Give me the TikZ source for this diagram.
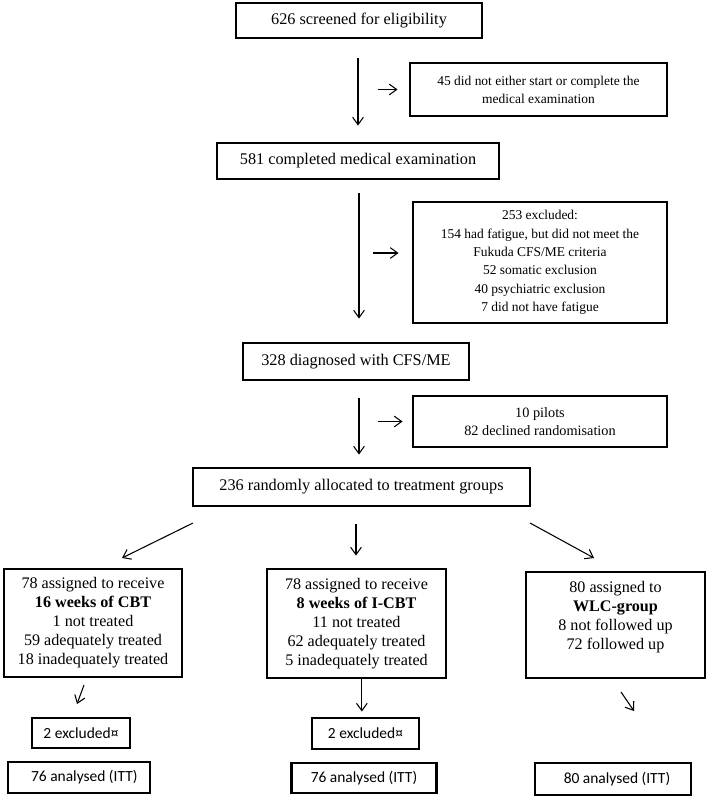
\documentclass[tikz,border=0pt]{standalone}
\usepackage{fontspec}
\setmainfont{Liberation Serif}
\newfontfamily\calib{Carlito}
\usetikzlibrary{arrows.meta}
\begin{document}
\begin{tikzpicture}[x=0.75pt,y=-0.75pt,
  box/.style={draw=black, line width=2.2pt, inner sep=0pt, align=center},
  bigtxt/.style={font=\fontsize{12.2}{14}\selectfont},
  smalltxt/.style={font=\fontsize{10.1}{13.6}\selectfont},
  grouptxt/.style={font=\fontsize{12.1}{14.2}\selectfont},
  sanstxt/.style={font=\calib\fontsize{11.6}{14}\selectfont},
  arr/.style={line width=0.8pt, -{Straight Barb[length=5.5pt,width=8pt,line width=0.8pt]}}
]
\fill[white] (0,0) rectangle (708,800);
\useasboundingbox (0,0) rectangle (708,800);

% main column
\node[box, bigtxt, minimum width=246*0.75pt, minimum height=35*0.75pt] (b1) at (359,20.5) {626 screened for eligibility};
\node[box, smalltxt, minimum width=257*0.75pt, minimum height=53*0.75pt] (b2) at (538.5,89.5) {45 did not either start or complete the\\medical examination};
\node[box, bigtxt, minimum width=282*0.75pt, minimum height=36*0.75pt] (b3) at (358,161) {581 completed medical examination};
\node[box, smalltxt, font=\fontsize{10.1}{13.8}\selectfont, minimum width=254*0.75pt, minimum height=121*0.75pt] (b4) at (540,262.5) {253 excluded:\\154 had fatigue, but did not meet the\\Fukuda CFS/ME criteria\\52 somatic exclusion\\40 psychiatric exclusion\\7 did not have fatigue};
\node[box, bigtxt, minimum width=226*0.75pt, minimum height=37*0.75pt] (b5) at (356,361.5) {328 diagnosed with CFS/ME};
\node[box, font=\fontsize{10.7}{13.6}\selectfont, minimum width=254*0.75pt, minimum height=51*0.75pt] (b6) at (540,421.5) {10 pilots\\82 declined randomisation};
\node[box, bigtxt, minimum width=337*0.75pt, minimum height=38*0.75pt] (b7) at (361.5,487) {236 randomly allocated to treatment groups};

% groups
\node[box, grouptxt, minimum width=178*0.75pt, minimum height=108*0.75pt] (g1) at (93,623) {78 assigned to receive\\\textbf{16 weeks of CBT}\\1 not treated\\59 adequately treated\\18 inadequately treated};
\node[box, grouptxt, minimum width=179*0.75pt, minimum height=109*0.75pt] (g2) at (356.5,623.5) {78 assigned to receive\\\textbf{8 weeks of I-CBT}\\11 not treated\\62 adequately treated\\5 inadequately treated};
\node[box, minimum width=179*0.75pt, minimum height=106*0.75pt] (g3) at (615.5,625) {};
\node[grouptxt, align=center, inner sep=0pt] (g3t) at (615.5,617) {80 assigned to\\\textbf{WLC-group}\\8 not followed up\\72 followed up};

% bottom
\node[box, sanstxt, minimum width=98*0.75pt, minimum height=30*0.75pt] (e1) at (81,733) {2 excluded¤};
\node[box, sanstxt, minimum width=107*0.75pt, minimum height=31*0.75pt] (e2) at (365.5,733.5) {2 excluded¤};
\node[box, sanstxt, minimum width=142*0.75pt, minimum height=31*0.75pt] (a1) at (79,777.5) {\hspace*{8pt}76 analysed (ITT)};
\node[box, sanstxt, minimum width=145*0.75pt, minimum height=30*0.75pt] (a2) at (364,778) {76 analysed (ITT)};
\node[box, sanstxt, minimum width=156*0.75pt, minimum height=32*0.75pt] (a3) at (613,779) {\hspace*{6pt}80 analysed (ITT)};

% coordinates for free ends
\coordinate (s1) at (378,89.5);
\coordinate (s2) at (373,253);
\coordinate (s3) at (378,421.5);
\coordinate (d1s) at (193,523);
\coordinate (d1e) at (122,558);
\coordinate (d3s) at (530,523);
\coordinate (d3e) at (594,558);
\coordinate (f1s) at (84,685);
\coordinate (f1e) at (77,704);
\coordinate (f3s) at (621,692);
\coordinate (f3e) at (634,711);

% connectors
\draw[arr, shorten <=19*0.75pt, shorten >=16*0.75pt] (b3.north |- b1.south) -- (b3.north);
\draw[arr, shorten >=11*0.75pt] (s1) -- (b2.west);
\draw[arr, shorten <=13*0.75pt, shorten >=23*0.75pt] ([xshift=0.75pt]b3.south) -- ([xshift=0.75pt]b3.south |- b5.north);
\draw[arr, shorten >=13*0.75pt] (s2) -- (s2 -| b4.west);
\draw[arr, shorten <=17*0.75pt, shorten >=12*0.75pt] ([xshift=2.25pt]b5.south) -- ([xshift=2.25pt]b5.south |- b7.north);
\draw[arr, shorten >=9*0.75pt] (s3) -- (b6.west);
\draw[arr] (d1s) -- (d1e);
\draw[arr, shorten <=17*0.75pt, shorten >=12*0.75pt] (b5.south |- b7.south) -- (b5.south |- g2.north);
\draw[arr] (d3s) -- (d3e);
\draw[arr] (f1s) -- (f1e);
\draw[arr, shorten >=5*0.75pt] ([xshift=4pt]g2.south) -- ([xshift=4pt]g2.south |- e2.north);
\draw[arr] (f3s) -- (f3e);
\end{tikzpicture}
\end{document}
